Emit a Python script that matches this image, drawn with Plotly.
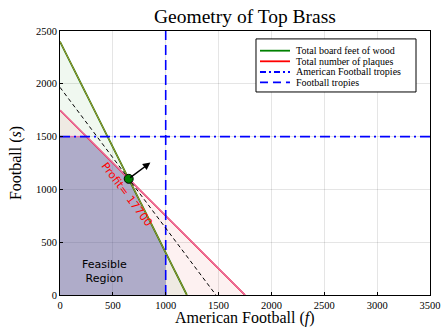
import plotly.graph_objects as go

# Constraint data
wood_f = [0, 1200]
wood_s = [2400, 0]
plaq_f = [0, 1750]
plaq_s = [1750, 0]
profit_f = [0, 1475]
profit_s = [1966.67, 0]
feas_f = [0, 0, 250, 650, 1000, 1000, 0]
feas_s = [0, 1500, 1500, 1100, 400, 0, 0]
amfb_limit = 1500
fb_limit = 1000
opt_f = [650]
opt_s = [1100]
arrow_end = (855, 1254)
x_ticks = [0, 500, 1000, 1500, 2000, 2500, 3000, 3500]
y_ticks = [0, 500, 1000, 1500, 2000, 2500]
legend_names = ["Total board feet of wood", "Total number of plaques",
                "American Football tropies", "Football tropies"]

serif = "Liberation Serif, DejaVu Serif, serif"
fig = go.Figure()

# fills
fig.add_trace(go.Scatter(x=wood_f + [0], y=wood_s + [0], fill="toself", fillcolor="rgba(0,128,0,0.06)",
                         line=dict(width=0), mode="lines", showlegend=False, hoverinfo="skip"))
fig.add_trace(go.Scatter(x=plaq_f + [0], y=plaq_s + [0], fill="toself", fillcolor="rgba(230,60,60,0.07)",
                         line=dict(width=0), mode="lines", showlegend=False, hoverinfo="skip"))
fig.add_trace(go.Scatter(x=feas_f, y=feas_s, fill="toself", fillcolor="rgba(70,70,160,0.38)",
                         line=dict(width=0), mode="lines", showlegend=False, hoverinfo="skip"))

# constraint lines
fig.add_trace(go.Scatter(x=wood_f, y=wood_s, mode="lines", line=dict(color="green", width=1.7),
                         hoverinfo="skip"))
fig.add_trace(go.Scatter(x=wood_f, y=wood_s, mode="lines", line=dict(color="#d98a3a", width=0.8),
                         hoverinfo="skip"))
fig.add_trace(go.Scatter(x=plaq_f, y=plaq_s, mode="lines", line=dict(color="red", width=1.6),
                         hoverinfo="skip"))
fig.add_trace(go.Scatter(x=plaq_f, y=plaq_s, mode="lines", line=dict(color="#e070b0", width=1.1),
                         hoverinfo="skip"))
fig.add_trace(go.Scatter(x=[0, 250], y=[amfb_limit, amfb_limit], mode="lines",
                         line=dict(color="#e070b0", width=1.4), hoverinfo="skip"))
fig.add_trace(go.Scatter(x=[0, 3500], y=[amfb_limit, amfb_limit], mode="lines",
                         line=dict(color="blue", width=1.6, dash="10px,4px,2px,4px"), hoverinfo="skip"))
fig.add_trace(go.Scatter(x=[fb_limit, fb_limit], y=[0, 2500], mode="lines",
                         line=dict(color="blue", width=1.6, dash="10px,5px"), hoverinfo="skip"))
fig.add_trace(go.Scatter(x=profit_f, y=profit_s, mode="lines",
                         line=dict(color="black", width=1, dash="4px,3px"), hoverinfo="skip"))
fig.add_trace(go.Scatter(x=opt_f, y=opt_s, mode="markers",
                         marker=dict(color="green", size=9, line=dict(color="black", width=1)),
                         hoverinfo="skip"))

fig.add_annotation(x=arrow_end[0], y=arrow_end[1], ax=opt_f[0], ay=opt_s[0],
                   xref="x", yref="y", axref="x", ayref="y", showarrow=True,
                   arrowhead=2, arrowsize=1, arrowwidth=1.5, arrowcolor="black", text="")
fig.add_annotation(x=634, y=956, text="Profit= 17700", showarrow=False, textangle=53,
                   font=dict(family="DejaVu Sans, sans-serif", size=11, color="red"))
fig.add_annotation(x=420, y=220, text="Feasible<br>Region", showarrow=False,
                   font=dict(family="DejaVu Sans, sans-serif", size=11, color="black"))

# x axis title placed as a paper annotation so it can sit low in the margin
fig.add_annotation(xref="paper", yref="paper", x=0.5, y=-0.089, yanchor="middle",
                   text="American Football (<i>f</i>)", showarrow=False,
                   font=dict(family=serif, size=16, color="black"))

# manual legend (paper coords of plot area)
fig.add_shape(type="rect", xref="paper", yref="paper", x0=0.5297, x1=0.9622, y0=0.769, y1=0.970,
              line=dict(color="black", width=1), fillcolor="white", layer="above")
leg_rows = [0.9254, 0.8852, 0.8447, 0.8057]
leg_styles = [dict(color="green", width=1.8), dict(color="red", width=1.8),
              dict(color="blue", width=1.8, dash="6px,3px,2px,3px"),
              dict(color="blue", width=1.8, dash="8px,5px")]
for yy, name, st in zip(leg_rows, legend_names, leg_styles):
    fig.add_shape(type="line", xref="paper", yref="paper", x0=0.5405, x1=0.6216, y0=yy, y1=yy,
                  line=st, layer="above")
    fig.add_annotation(xref="paper", yref="paper", x=0.6324, y=yy, text=name, showarrow=False,
                       xanchor="left", yanchor="middle",
                       font=dict(family=serif, size=10, color="black"))

axis_common = dict(showline=True, linecolor="black", linewidth=1, mirror=True,
                   showgrid=True, gridcolor="rgba(0,0,0,0.1)", gridwidth=1,
                   ticks="inside", ticklen=3, tickcolor="black", zeroline=False, automargin=False,
                   tickfont=dict(family=serif, size=10.5, color="black"))
fig.update_xaxes(range=[0, 3500], tickvals=x_ticks, **axis_common)
fig.update_yaxes(range=[0, 2500], tickvals=y_ticks, title=dict(text="Football (<i>s</i>)",
                 font=dict(family=serif, size=16, color="black"), standoff=10), **axis_common)

fig.update_layout(
    width=443, height=327,
    margin=dict(l=60, r=13, t=31, b=32),
    paper_bgcolor="white", plot_bgcolor="white",
    title=dict(text="Geometry of Top Brass", x=0.553, xanchor="center", y=0.952, yanchor="middle",
               font=dict(family=serif, size=19.5, color="black")),
    showlegend=False,
)

fig.write_html("out.html", config={"displayModeBar": False},
               post_script="document.body.style.margin='0';document.body.style.overflow='hidden';")
